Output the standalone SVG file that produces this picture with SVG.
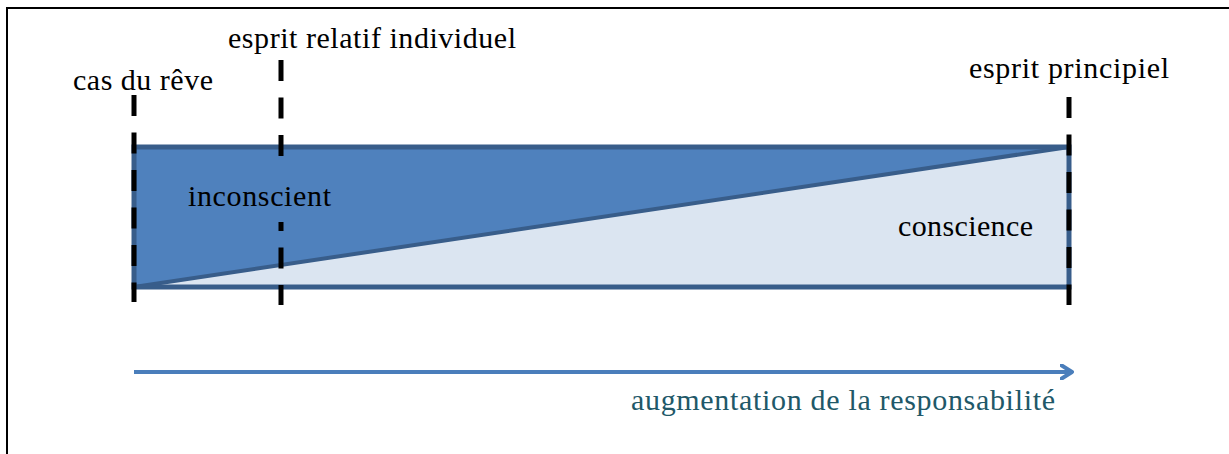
<svg xmlns="http://www.w3.org/2000/svg" width="1229" height="454" viewBox="0 0 1229 454">
<defs>
<style>
.t{font-family:"Liberation Serif","DejaVu Serif",serif;font-size:30px;fill:#000}
.dash{stroke:#000;stroke-width:5;stroke-dasharray:21 16.5;fill:none}
</style>
<marker id="ah" markerWidth="14" markerHeight="16" refX="11" refY="8" orient="auto" markerUnits="userSpaceOnUse">
<path d="M1,1 L12,8 L1,15" fill="none" stroke="#4A7EBB" stroke-width="4" stroke-linecap="round" stroke-linejoin="round"/>
</marker>
</defs>
<rect width="1229" height="454" fill="#fff"/>
<path d="M7,454 V8 H1229" fill="none" stroke="#000" stroke-width="2"/>
<g id="bar">
<polygon points="134,147 1069,147 134,287" fill="#4F81BD"/>
<polygon points="134,287 1069,147 1069,287" fill="#DBE5F1"/>
<line x1="134" y1="287" x2="1069" y2="147" stroke="#385D8A" stroke-width="4"/>
<rect x="134" y="147" width="935" height="140" fill="none" stroke="#385D8A" stroke-width="5"/>
</g>
<g id="connectors">
<line class="dash" x1="134" y1="95" x2="134" y2="302"/>
<line class="dash" x1="281" y1="60" x2="281" y2="305"/>
<line class="dash" x1="1069" y1="97" x2="1069" y2="305"/>
<line x1="134" y1="372" x2="1071" y2="372" stroke="#4A7EBB" stroke-width="4" marker-end="url(#ah)"/>
</g>
<g id="inconscient">
<rect x="186" y="158" width="146" height="64" fill="#4F81BD"/>
<text class="t" x="188" y="206" textLength="143">inconscient</text>
</g>
<g id="conscience"><text class="t" x="898" y="236" textLength="135">conscience</text></g>
<g id="cas-du-reve"><text class="t" x="73" y="90" textLength="140">cas du rêve</text></g>
<g id="esprit-relatif"><text class="t" x="228" y="48" textLength="288">esprit relatif individuel</text></g>
<g id="esprit-principiel"><text class="t" x="969" y="78" textLength="200">esprit principiel</text></g>
<g id="responsabilite"><text class="t" x="631" y="410" textLength="424" style="fill:#215868">augmentation de la responsabilité</text></g>
</svg>
